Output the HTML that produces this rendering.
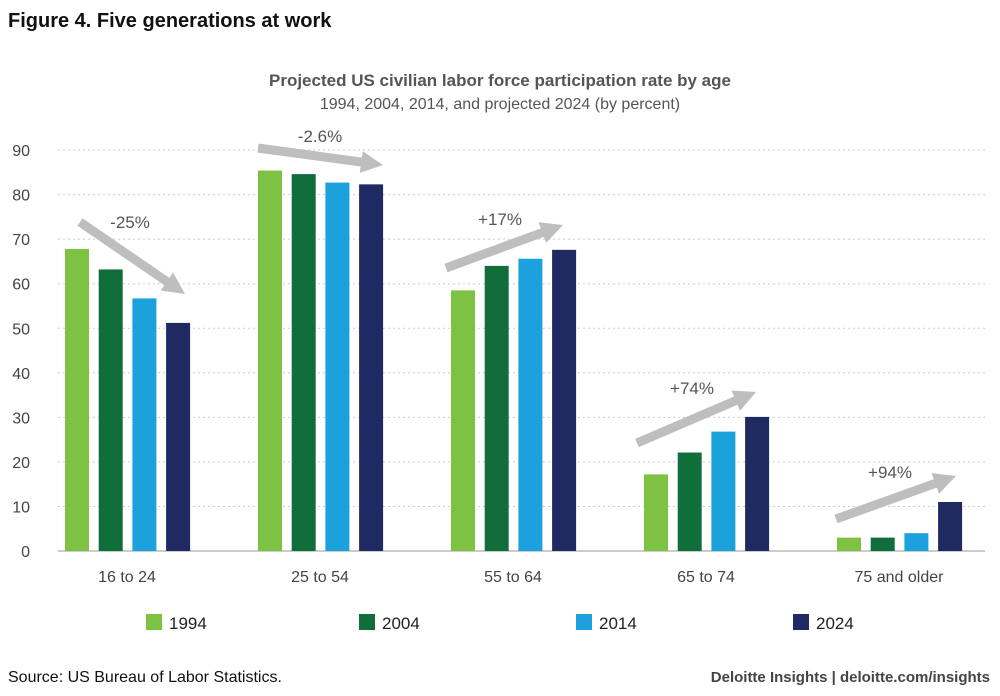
<!DOCTYPE html>
<html><head><meta charset="utf-8"><style>
body{margin:0;background:#fff;font-family:"Liberation Sans","DejaVu Sans",sans-serif}
svg text{font-family:"Liberation Sans","DejaVu Sans",sans-serif}
</style></head><body>
<svg id="c" width="1000" height="691">
<text x="8" y="27" font-size="20" font-weight="bold" fill="#111">Figure 4. Five generations at work</text>
<text x="500" y="86" font-size="17" font-weight="bold" fill="#555" text-anchor="middle">Projected US civilian labor force participation rate by age</text>
<text x="500" y="109" font-size="16" fill="#555" text-anchor="middle">1994, 2004, 2014, and projected 2024 (by percent)</text>
<g id="grid"></g><g id="bars"></g><g id="arrows"></g>
<text x="8" y="682" font-size="16" fill="#111">Source: US Bureau of Labor Statistics.</text>
<text x="990" y="682" font-size="15" font-weight="bold" fill="#444" text-anchor="end">Deloitte Insights | deloitte.com/insights</text>
</svg>
<script>
const categories=["16 to 24","25 to 54","55 to 64","65 to 74","75 and older"];
const years=["1994","2004","2014","2024"];
const v1994=[67.8,85.4,58.5,17.2,3.0];
const v2004=[63.2,84.6,64.0,22.1,3.0];
const v2014=[56.7,82.7,65.6,26.8,4.0];
const v2024=[51.2,82.3,67.6,30.1,11.0];
const changes=["-25%","-2.6%","+17%","+74%","+94%"];
const yTicks=[0,10,20,30,40,50,60,70,80,90];
const colors=["#7dc242","#0f6e3a","#1da1dc","#1f2a63"];
const series=[v1994,v2004,v2014,v2024];
const NS="http://www.w3.org/2000/svg";
const y=v=>551-v*4.455;
const gx=i=>65+i*193, bx=(i,j)=>gx(i)+j*33.7, bw=24;
function mk(t,a,p){const e=document.createElementNS(NS,t);for(const k in a)e.setAttribute(k,a[k]);p.appendChild(e);return e;}
const grid=document.getElementById('grid');
yTicks.forEach(t=>{
  const l=mk('line',{x1:58,x2:985,y1:y(t),y2:y(t),stroke:t?'#ccc':'#999','stroke-dasharray':t?'2,3':'none'},grid);
  
  
  const tx=mk('text',{x:30,y:y(t)+6,'font-size':16,fill:'#444','text-anchor':'end'},grid);tx.textContent=t;
  
  
});
const bars=document.getElementById('bars');
categories.forEach((c,i)=>{
  series.forEach((s,j)=>{
    const r=mk('rect',{x:bx(i,j),y:y(s[i]),width:bw,height:y(0)-y(s[i]),fill:colors[j]},bars);
    
    
  });
  const t=mk('text',{x:gx(i)+62,y:582,'font-size':16,fill:'#444','text-anchor':'middle'},bars);t.textContent=c;
  
  
});
// annotation arrows (decorative callouts)
const arrowGeom=[[80,222,185,294,130,228],[258,148,383,165,320,142],[446,268,563,225,500,225],[637,443,756,392,692,394],[836,519,956,476,890,478]];
const arr=document.getElementById('arrows');
arrowGeom.forEach((g,i)=>{
  const [x1,ya,x2,yb,lx_,ly_]=g;
  const dx=x2-x1,dy=yb-ya,L=Math.hypot(dx,dy),ux=dx/L,uy=dy/L,nx=-uy,ny=ux;
  const hl=22,hw=11,sw=4.5;
  const bxp=x2-ux*hl,byp=yb-uy*hl;
  const pts=[[x1+nx*sw,ya+ny*sw],[bxp+nx*sw,byp+ny*sw],[bxp+nx*hw,byp+ny*hw],[x2,yb],[bxp-nx*hw,byp-ny*hw],[bxp-nx*sw,byp-ny*sw],[x1-nx*sw,ya-ny*sw]];
  const p=mk('polygon',{points:pts.map(q=>q.join(',')).join(' '),fill:'#bdbebd'},arr);
  
  
  const t=mk('text',{x:lx_,y:ly_,'font-size':17,fill:'#555','text-anchor':'middle'},arr);t.textContent=changes[i];
  
  
});
const lx=[146,359,576,793];
years.forEach((yr,j)=>{
  const r=mk('rect',{x:lx[j],y:614,width:16,height:16,fill:colors[j]},arr);
  
  
  const t=mk('text',{x:lx[j]+23,y:629,'font-size':17,fill:'#222'},arr);t.textContent=yr;
  
  
});
</script>
</body></html>
